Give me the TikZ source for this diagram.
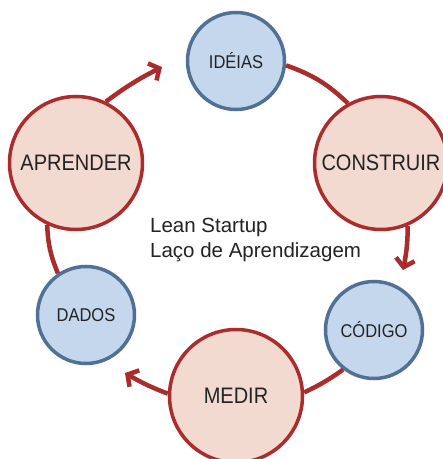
\documentclass[tikz,border=0pt]{standalone}
\usepackage{fontspec}
\setmainfont{Liberation Sans}
\usetikzlibrary{arrows.meta,bending}
\definecolor{redline}{RGB}{170,44,44}
\definecolor{redfill}{RGB}{242,218,208}
\definecolor{bluefill}{RGB}{197,215,236}
\definecolor{blueline}{RGB}{80,112,150}
\definecolor{inkgray}{RGB}{35,35,35}
\newcommand{\tallcaps}[1]{\scalebox{1}[1.12]{#1}}
\tikzset{
  stage/.style={circle, draw=redline, fill=redfill, line width=3.5pt,
    minimum size=133pt, inner sep=0pt, text=inkgray,
    font=\fontsize{20}{24}\selectfont},
  artefact/.style={circle, draw=blueline, fill=bluefill, line width=3.5pt,
    minimum size=97pt, inner sep=0pt, text=inkgray,
    font=\fontsize{16.5}{20}\selectfont},
  conn/.style={draw=redline, line width=4.5pt},
  arr/.style={-{Straight Barb[length=8pt,width=19pt]}},
  caption/.style={anchor=base west, inner sep=0pt, text=inkgray,
    font=\fontsize{20.5}{24}\selectfont}
}
\begin{document}
\begin{tikzpicture}[x=1pt,y=1pt]
  \useasboundingbox (0,0) rectangle (443,459);
  \clip (0,0) rectangle (443,459);
  \fill[white] (0,0) rectangle (443,459);

  % the six stages of the loop
  \node[artefact] (ideias) at (236,398) {\tallcaps{IDÉIAS}};
  \node[stage] (construir) at (381,296) {\tallcaps{CONSTRUIR}};
  \node[artefact] (codigo) at (374,129) {\tallcaps{CÓDIGO}};
  \node[stage] (medir) at (236,63) {\tallcaps{MEDIR}};
  \node[artefact] (dados) at (86,144) {\tallcaps{DADOS}};
  \node[stage] (aprender) at (76,296) {\tallcaps{APRENDER}};

  % free ends of the three arrows
  \coordinate (tipcodigo) at (403,189);
  \coordinate (tipdados) at (125,86);
  \coordinate (tipideias) at (162,392);

  % clockwise connectors between the stages
  \draw[conn] (ideias.-5) to[bend left=12] (construir.119);
  \draw[conn,arr] (construir.-67) to[bend left=6] (tipcodigo);
  \draw[conn] (codigo.-128) to[bend left=5] (medir.3);
  \draw[conn,arr] (medir.178) to[bend left=5] (tipdados);
  \draw[conn] (dados.124) to[bend left=10] (aprender.-115);
  \draw[conn,arr] (aprender.64) to[bend left=5] (tipideias);

  \node[caption] (title) at (150,226) {Lean Startup};
  \node[caption] (subtitle) at (150,201) {Laço de Aprendizagem};
\end{tikzpicture}
\end{document}
